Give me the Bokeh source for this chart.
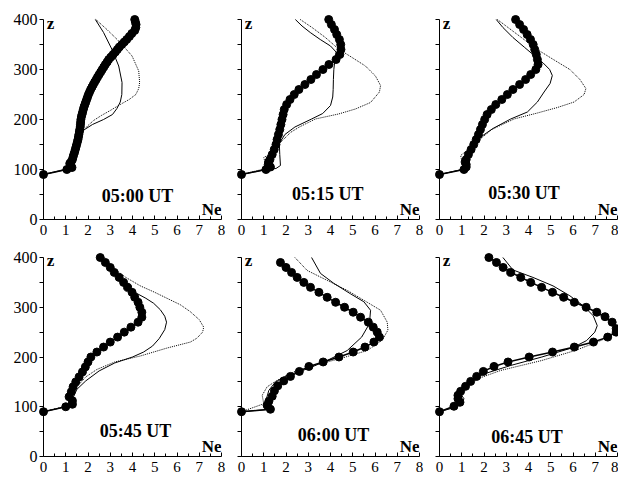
from bokeh.plotting import figure
from bokeh.layouts import row, column
from bokeh.models import FixedTicker, Label, Range1d
from bokeh.embed import file_html
from bokeh.resources import INLINE

FONT = "Liberation Serif"

# ---------------- data ----------------
ne_ticks = [0, 1, 2, 3, 4, 5, 6, 7, 8]
ne_minor = [0.5, 1.5, 2.5, 3.5, 4.5, 5.5, 6.5, 7.5]
z_ticks = [0, 100, 200, 300, 400]
z_minor = [50, 150, 250, 350]

times = ["05:00 UT", "05:15 UT", "05:30 UT", "05:45 UT", "06:00 UT", "06:45 UT"]

# panel 1 (05:00 UT)
dots_z_1 = [90, 100, 104, 108, 112, 116, 120, 125, 130, 135, 140, 145, 150, 155, 160, 165, 170, 175, 180, 185,
            190, 195, 200, 205, 210, 215, 220, 225, 230, 235, 240, 245, 250, 255, 260, 265, 270, 275, 280, 285,
            290, 295, 300, 305, 310, 315, 320, 325, 330, 335, 340, 345, 350, 355, 360, 366, 372, 378, 384, 390,
            395, 400]
dots_ne_1 = [0, 1.05, 1.28, 1.22, 1.18, 1.25, 1.3, 1.33, 1.36, 1.4, 1.43, 1.46, 1.49, 1.52, 1.55, 1.57, 1.59, 1.61,
             1.63, 1.65, 1.66, 1.67, 1.68, 1.7, 1.73, 1.76, 1.79, 1.82, 1.86, 1.9, 1.94, 1.98, 2.02, 2.07, 2.12,
             2.18, 2.24, 2.3, 2.37, 2.43, 2.5, 2.57, 2.64, 2.71, 2.78, 2.86, 2.93, 3.03, 3.13, 3.23, 3.32, 3.41,
             3.52, 3.63, 3.74, 3.86, 3.97, 4.1, 4.15, 4.16, 4.13, 4.1]
solid_z_1 = [400, 374, 340, 307, 274, 250, 235, 222, 210, 200, 190, 180, 170, 155, 140, 125, 115, 105, 100, 90]
solid_ne_1 = [2.33, 2.7, 3.08, 3.38, 3.53, 3.52, 3.45, 3.3, 3.1, 2.7, 2.2, 1.85, 1.62, 1.5, 1.42, 1.32, 1.15, 1.1,
              1.0, 0]
dotted_z_1 = [400, 380, 354, 327, 297, 274, 262, 250, 240, 230, 218, 208, 198, 188, 178, 164, 150, 138, 124, 117,
              107, 101, 90]
dotted_ne_1 = [2.35, 2.85, 3.45, 3.98, 4.28, 4.32, 4.28, 4.15, 3.85, 3.45, 3.0, 2.6, 2.25, 2.0, 1.8, 1.65, 1.52,
               1.42, 1.2, 1.05, 1.13, 0.98, 0]

# panel 2 (05:15 UT)
dots_z_2 = [90, 100, 105, 110, 115, 120, 130, 140, 150, 160, 170, 180, 190, 200, 210, 220, 230, 240, 250, 260,
            270, 280, 290, 300, 310, 320, 330, 340, 350, 360, 370, 380, 390, 400]
dots_ne_2 = [0, 1.1, 1.3, 1.2, 1.22, 1.28, 1.38, 1.47, 1.55, 1.6, 1.66, 1.72, 1.77, 1.82, 1.87, 1.92, 2.03, 2.18,
             2.37, 2.58, 2.85, 3.12, 3.37, 3.66, 3.93, 4.25, 4.42, 4.47, 4.46, 4.4, 4.28, 4.18, 4.04, 3.92]
solid_z_2 = [400, 387, 374, 360, 347, 335, 320, 300, 280, 260, 245, 228, 212, 201, 185, 170, 152, 130, 108, 102,
             100, 90]
solid_ne_2 = [2.42, 2.72, 3.09, 3.54, 4.0, 4.25, 4.2, 4.15, 4.13, 4.12, 4.1, 4.0, 3.65, 3.15, 2.4, 1.95, 1.7, 1.72,
              1.75, 1.55, 1.1, 0]
dotted_z_2 = [400, 384, 364, 341, 324, 307, 287, 268, 255, 234, 221, 211, 201, 185, 174, 154, 131, 124, 111, 101,
              90]
dotted_ne_2 = [2.64, 3.17, 3.77, 4.36, 4.97, 5.57, 6.02, 6.25, 6.2, 5.8, 5.12, 4.36, 3.32, 2.6, 2.2, 1.75, 1.3,
               1.0, 1.08, 1.0, 0]

# panel 3 (05:30 UT)
dots_z_3 = [90, 100, 105, 110, 115, 120, 130, 140, 150, 160, 170, 180, 190, 200, 210, 220, 230, 240, 250, 260,
            270, 280, 290, 300, 310, 320, 330, 340, 350, 360, 370, 380, 390, 400]
dots_ne_3 = [0, 1.1, 1.2, 1.2, 1.15, 1.2, 1.3, 1.42, 1.54, 1.65, 1.75, 1.84, 1.93, 2.03, 2.14, 2.33, 2.53, 2.8,
             3.05, 3.3, 3.6, 3.87, 4.1, 4.33, 4.43, 4.4, 4.35, 4.28, 4.21, 4.09, 3.94, 3.78, 3.6, 3.42]
solid_z_3 = [400, 384, 364, 344, 327, 313, 300, 288, 272, 255, 235, 215, 201, 182, 165, 145, 125, 112, 104, 100, 90]
solid_ne_3 = [2.55, 2.85, 3.3, 3.83, 4.28, 4.66, 4.95, 5.07, 4.97, 4.7, 4.4, 3.95, 3.2, 2.4, 1.85, 1.5, 1.2, 1.05,
              1.2, 1.0, 0]
dotted_z_3 = [400, 384, 364, 341, 321, 300, 280, 262, 250, 235, 224, 213, 201, 180, 160, 142, 128, 118, 105, 100,
              90]
dotted_ne_3 = [2.6, 3.08, 3.68, 4.36, 5.08, 5.86, 6.31, 6.58, 6.5, 6.05, 5.3, 4.4, 3.35, 2.35, 1.8, 1.35, 0.95,
               1.0, 1.15, 1.05, 0]

# panel 4 (05:45 UT)
dots_z_4 = [90, 100, 105, 112, 120, 130, 140, 150, 160, 170, 180, 190, 200, 210, 220, 230, 240, 250, 260, 270,
            280, 290, 300, 310, 320, 330, 340, 350, 360, 370, 380, 390, 400]
dots_ne_4 = [0, 1.0, 1.3, 1.3, 1.15, 1.25, 1.33, 1.45, 1.6, 1.75, 1.88, 2.0, 2.13, 2.4, 2.7, 3.0, 3.33, 3.63,
             3.93, 4.25, 4.42, 4.42, 4.33, 4.25, 4.1, 3.98, 3.78, 3.6, 3.4, 3.18, 3.0, 2.78, 2.55]
solid_z_4 = [400, 385, 370, 355, 340, 330, 318, 308, 295, 282, 270, 255, 237, 222, 210, 200, 188, 172, 152, 135,
             120, 108, 101, 90]
solid_ne_4 = [2.6, 2.9, 3.2, 3.55, 3.85, 4.1, 4.6, 4.95, 5.25, 5.45, 5.53, 5.45, 5.2, 4.9, 4.5, 4.0, 3.2, 2.5,
              1.9, 1.5, 1.35, 1.35, 1.1, 0]
dotted_z_4 = [400, 380, 360, 343, 330, 318, 305, 291, 275, 260, 250, 238, 230, 218, 202, 190, 175, 160, 140, 125,
              110, 101, 90]
dotted_ne_4 = [2.75, 3.1, 3.7, 4.35, 5.0, 5.55, 6.15, 6.6, 7.0, 7.2, 7.15, 6.9, 6.6, 5.55, 4.35, 3.2, 2.4, 1.9,
               1.5, 1.3, 1.15, 1.0, 0]

# panel 5 (06:00 UT)
dots_z_5 = [90, 95, 103, 111, 121, 132, 142, 152, 161, 171, 181, 190, 200, 210, 220, 230, 240, 250, 260, 270,
            280, 290, 300, 310, 320, 330, 340, 350, 360, 370, 380, 390]
dots_ne_5 = [0, 1.3, 1.15, 1.23, 1.38, 1.48, 1.63, 1.9, 2.2, 2.6, 3.03, 3.67, 4.38, 5.02, 5.55, 5.95, 6.2, 6.1,
             5.92, 5.7, 5.35, 5.02, 4.63, 4.23, 3.85, 3.48, 3.1, 2.8, 2.5, 2.25, 2.0, 1.75]
solid_z_5 = [400, 368, 348, 327, 311, 294, 267, 240, 213, 193, 176, 163, 150, 133, 113, 100, 95, 90]
solid_ne_5 = [3.15, 3.55, 4.15, 4.9, 5.5, 5.8, 5.75, 5.4, 4.75, 3.85, 2.95, 2.05, 1.53, 1.23, 1.1, 1.2, 1.3, 0]
dotted_z_5 = [400, 374, 354, 334, 314, 294, 270, 254, 234, 213, 197, 183, 170, 153, 140, 123, 106, 94, 90]
dotted_ne_5 = [2.4, 2.95, 3.85, 4.75, 5.5, 6.25, 6.55, 6.58, 6.33, 5.65, 4.45, 3.25, 2.35, 1.6, 1.15, 0.93, 1.0,
               0.25, 0]

# panel 6 (06:45 UT)
dots_z_6 = [90, 101, 109, 116, 123, 131, 141, 151, 161, 171, 181, 190, 200, 210, 220, 230, 240, 250, 257, 270,
            281, 290, 300, 310, 320, 330, 340, 350, 360, 370, 380, 390, 400]
dots_ne_6 = [0, 0.65, 0.92, 0.83, 0.83, 0.95, 1.17, 1.4, 1.67, 1.97, 2.45, 3.08, 4.03, 5.08, 6.06, 6.92, 7.56,
             7.94, 7.94, 7.76, 7.44, 7.07, 6.59, 6.06, 5.58, 5.08, 4.59, 4.1, 3.65, 3.2, 2.86, 2.56, 2.22]
solid_z_6 = [400, 375, 360, 343, 323, 303, 283, 263, 250, 233, 219, 200, 183, 166, 152, 136, 126, 116, 107, 99, 90]
solid_ne_6 = [2.85, 3.3, 4.2, 5.1, 5.86, 6.46, 6.91, 7.09, 6.98, 6.61, 6.0, 4.6, 3.2, 2.0, 1.4, 1.1, 0.95, 1.1,
              1.0, 0.72, 0]
dotted_z_6 = [400, 380, 360, 340, 320, 300, 280, 262, 250, 234, 213, 193, 173, 156, 142, 130, 118, 110, 101, 90]
dotted_ne_6 = [2.3, 2.9, 3.7, 4.6, 5.6, 6.6, 7.4, 7.9, 7.85, 7.3, 6.1, 4.6, 2.75, 1.7, 1.25, 1.0, 0.9, 0.95,
               0.65, 0]

series = [
    (dots_ne_1, dots_z_1, solid_ne_1, solid_z_1, dotted_ne_1, dotted_z_1),
    (dots_ne_2, dots_z_2, solid_ne_2, solid_z_2, dotted_ne_2, dotted_z_2),
    (dots_ne_3, dots_z_3, solid_ne_3, solid_z_3, dotted_ne_3, dotted_z_3),
    (dots_ne_4, dots_z_4, solid_ne_4, solid_z_4, dotted_ne_4, dotted_z_4),
    (dots_ne_5, dots_z_5, solid_ne_5, solid_z_5, dotted_ne_5, dotted_z_5),
    (dots_ne_6, dots_z_6, solid_ne_6, solid_z_6, dotted_ne_6, dotted_z_6),
]

# ---------------- layout / style ----------------
# time-label anchor (data coords) per panel
title_pos = [(4.23, 37), (3.88, 41), (3.8, 44), (4.13, 42), (4.14, 34), (3.93, 29)]

col_w = [231, 198, 189]
col_bl = [43, 10, 10]
col_br = [10, 10, 1]
row_h = [247, 235]
row_bt = [19, 10]
row_bb = [28, 26]


def make_panel(i):
    r, c = divmod(i, 3)
    dne, dz, sne, sz, tne, tz = series[i]
    assert len(dne) == len(dz) and len(sne) == len(sz) and len(tne) == len(tz)
    p = figure(width=col_w[c], height=row_h[r], x_range=Range1d(0, 8), y_range=Range1d(0, 400),
               output_backend="svg", toolbar_location=None,
               min_border_left=col_bl[c], min_border_right=col_br[c],
               min_border_top=row_bt[r], min_border_bottom=row_bb[r])
    p.outline_line_color = None
    p.grid.visible = False
    p.background_fill_color = "white"
    p.border_fill_color = "white"

    xa = p.xaxis[0]
    xa.ticker = FixedTicker(ticks=ne_ticks, minor_ticks=ne_minor)
    xa.major_tick_in = 4
    xa.major_tick_out = 0
    xa.minor_tick_in = 3
    xa.minor_tick_out = 0
    xa.major_label_standoff = 5
    xa.major_label_text_font = FONT
    xa.major_label_text_font_size = "15px"
    xa.major_label_text_color = "black"
    xa.axis_line_color = "black"
    xa.major_tick_line_color = "black"
    xa.minor_tick_line_color = "black"

    ya = p.yaxis[0]
    ya.ticker = FixedTicker(ticks=z_ticks, minor_ticks=z_minor)
    ya.major_tick_in = 0
    ya.major_tick_out = 4
    ya.minor_tick_in = 0
    ya.minor_tick_out = 4
    ya.major_label_standoff = 2
    ya.major_label_text_font = FONT
    ya.major_label_text_font_size = "16px"
    ya.major_label_text_color = "black"
    ya.axis_line_color = "black"
    ya.major_tick_line_color = "black"
    ya.minor_tick_line_color = "black"
    if c != 0:
        ya.major_label_overrides = {t: "" for t in z_ticks}

    p.line(tne, tz, line_color="black", line_width=1, line_dash="1 1", level="overlay")
    p.line(sne, sz, line_color="black", line_width=1, level="overlay")
    p.line(dne, dz, line_color="black", line_width=1.5, level="overlay")
    p.scatter(dne, dz, size=8, fill_color="black", line_color="black", level="overlay")

    p.add_layout(Label(x=0.15, y=383, y_offset=5, text="z", text_font=FONT, text_font_size="17px",
                       text_font_style="bold", text_baseline="alphabetic", text_color="black"))
    p.add_layout(Label(x=8, y=10, y_offset=5, text="Ne", text_font=FONT, text_font_size="17px",
                       text_font_style="bold", text_align="right", text_baseline="alphabetic",
                       text_color="black"))
    tx, ty = title_pos[i]
    p.add_layout(Label(x=tx, y=ty, y_offset=5, text=times[i], text_font=FONT, text_font_size="18px",
                       text_font_style="bold", text_align="center", text_baseline="alphabetic",
                       text_color="black"))
    return p


panels = [make_panel(i) for i in range(6)]
layout = column(row(*panels[:3]), row(*panels[3:]))

open("out.html", "w").write(file_html(layout, INLINE))
